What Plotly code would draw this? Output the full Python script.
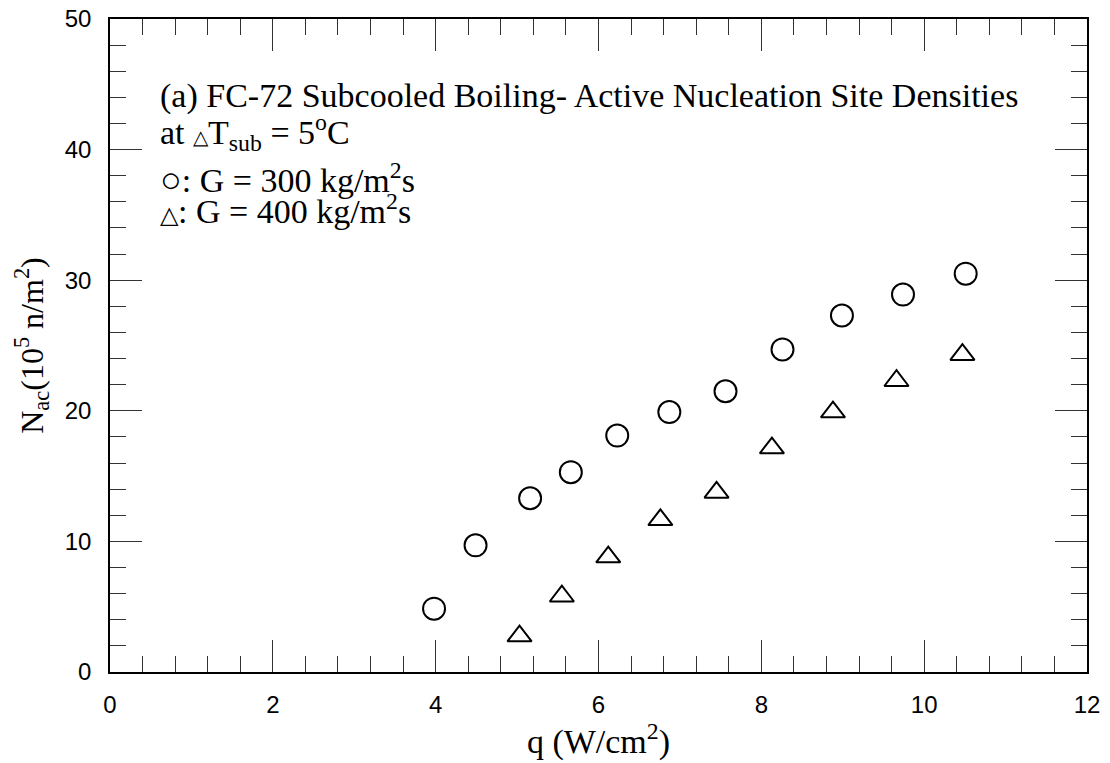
import plotly.graph_objects as go

# Heat flux q (W/cm^2) and active nucleation site density N_ac (10^5 n/m^2)
q_g300 = [3.98, 4.49, 5.16, 5.66, 6.23, 6.87, 7.56, 8.26, 8.99, 9.74, 10.51]
n_g300 = [4.85, 9.7, 13.3, 15.3, 18.1, 19.9, 21.5, 24.7, 27.3, 28.9, 30.5]

q_g400 = [5.03, 5.55, 6.12, 6.76, 7.45, 8.13, 8.88, 9.66, 10.47]
n_g400 = [2.75, 5.8, 8.8, 11.65, 13.75, 17.15, 19.9, 22.3, 24.3]

x_ticks = [0, 2, 4, 6, 8, 10, 12]
y_ticks = [0, 10, 20, 30, 40, 50]

SERIF = "Liberation Serif, Times New Roman, serif"
SANS = "Liberation Sans, Arial, sans-serif"

fig = go.Figure()
fig.add_trace(go.Scatter(
    x=q_g300, y=n_g300, mode="markers", name="G = 300 kg/m2s",
    marker=dict(symbol="circle-open", size=22, color="black", line=dict(width=2, color="black")),
))
fig.add_trace(go.Scatter(
    x=q_g400, y=n_g400, mode="markers", name="G = 400 kg/m2s",
    marker=dict(symbol="triangle-up-open", size=21, color="black", line=dict(width=2, color="black")),
))

axis_common = dict(
    showline=True, linecolor="black", linewidth=1.5, mirror="allticks",
    ticks="inside", ticklen=32, tickwidth=1, tickcolor="#333",
    showgrid=False, zeroline=False, automargin=False,
    tickfont=dict(family=SANS, size=24, color="black"),
)

fig.update_xaxes(
    range=[0, 12], tickvals=x_ticks, ticktext=[str(v) for v in x_ticks],
    ticklabelstandoff=10,
    minor=dict(ticks="inside", ticklen=16, dtick=0.4, tickwidth=1, tickcolor="#333", showgrid=False),
    title=dict(text="q (W/cm<sup>2</sup>)", font=dict(family=SERIF, size=34, color="black"), standoff=0),
    **axis_common,
)
fig.update_yaxes(
    range=[0, 50], tickvals=y_ticks, ticktext=[str(v) for v in y_ticks],
    ticklabelstandoff=12,
    minor=dict(ticks="inside", ticklen=16, dtick=2, tickwidth=1, tickcolor="#333", showgrid=False),
    title=dict(text="N<sub>ac</sub>(10<sup>5</sup> n/m<sup>2</sup>)",
               font=dict(family=SERIF, size=32, color="black"), standoff=12),
    **axis_common,
)

notes = [
    ("(a) FC-72 Subcooled Boiling- Active Nucleation Site Densities", 96),
    ("at <span style='font-size:20px'>△</span>T<sub>sub</sub> = 5<sup>o</sup>C", 132),
    ("<span style='font-size:36px'>○</span>: G = 300 kg/m<sup>2</sup>s", 178),
    ("<span style='font-size:24px'>△</span>: G = 400 kg/m<sup>2</sup>s", 209),
]
for text, ypx in notes:
    fig.add_annotation(
        text=text, xref="paper", yref="paper",
        x=(158 - 110) / (1087 - 110), y=(672 - ypx) / (672 - 19),
        xanchor="left", yanchor="middle", showarrow=False,
        font=dict(family=SERIF, size=34, color="black"),
    )

fig.update_layout(
    width=1110, height=763,
    margin=dict(l=110, r=23, t=19, b=91, autoexpand=False),
    paper_bgcolor="white", plot_bgcolor="white",
    showlegend=False,
)

fig.write_html("out.html")
